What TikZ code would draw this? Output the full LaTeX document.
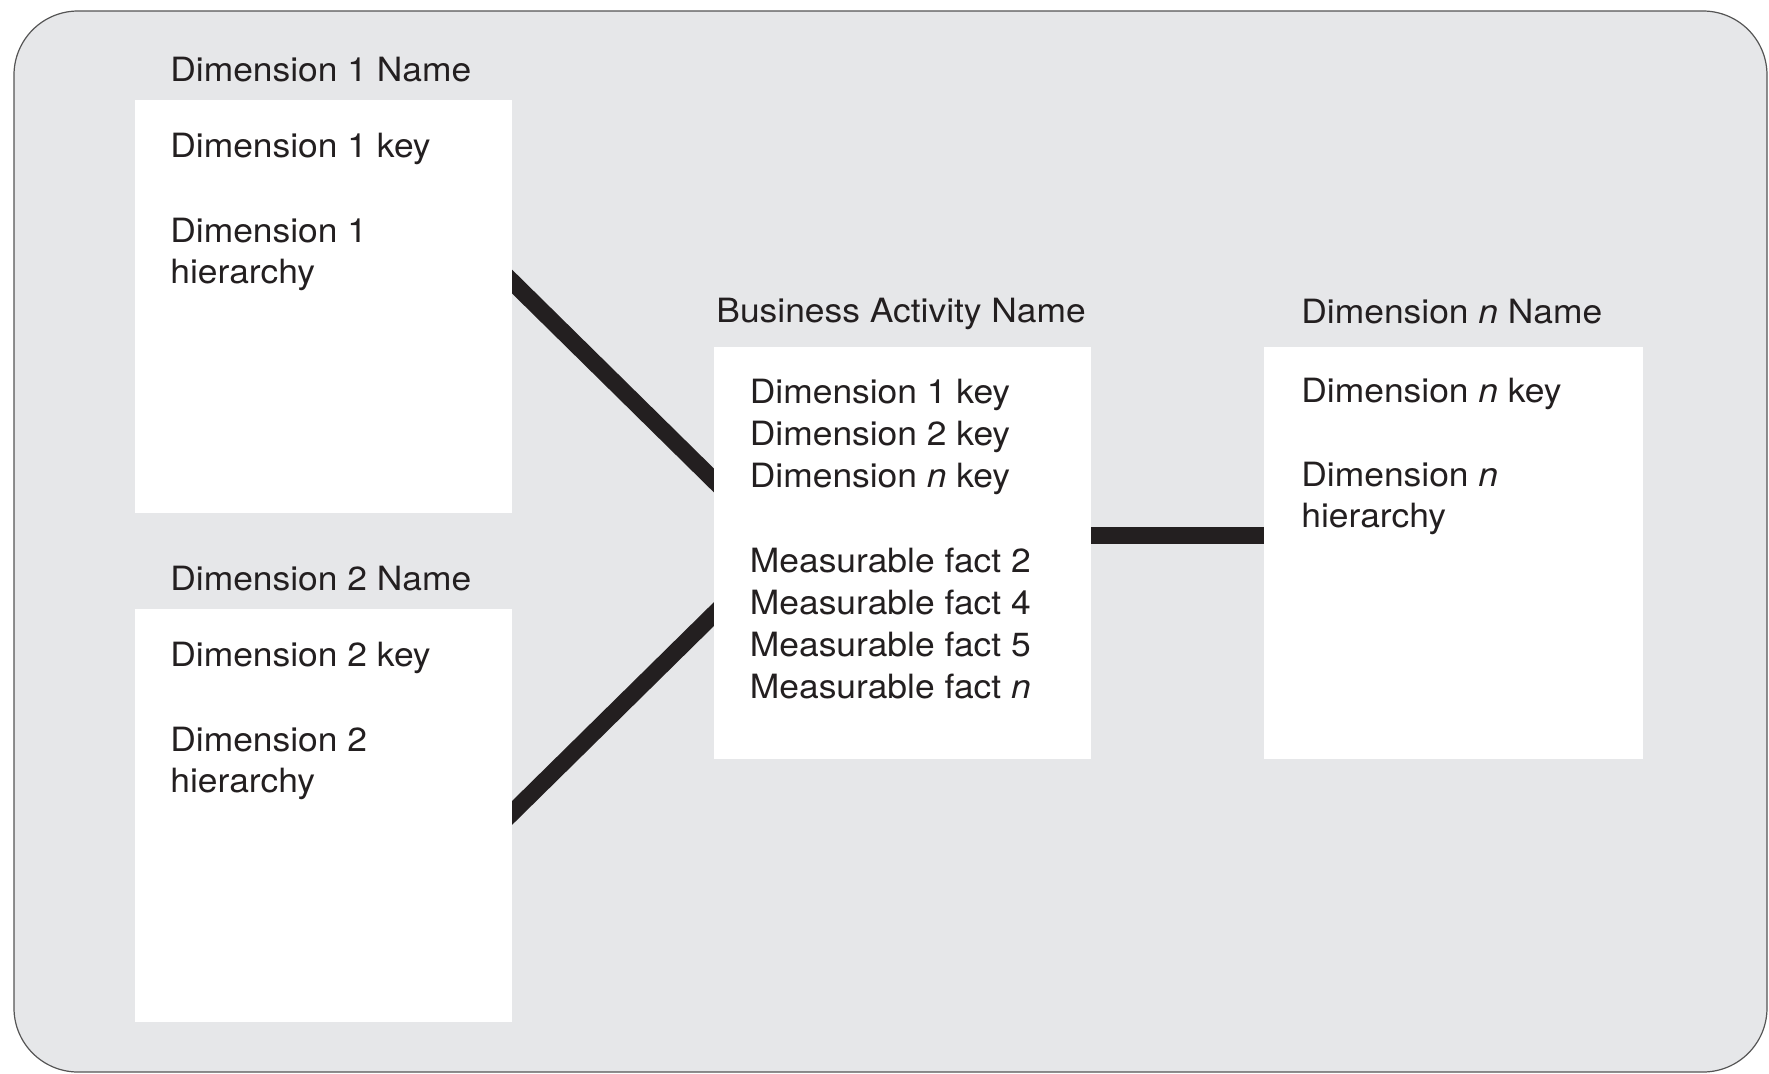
\documentclass[tikz,border=0pt]{standalone}
\usepackage{fontspec}
\setmainfont{TeX Gyre Heros}[FakeStretch=1.06]
\usetikzlibrary{fit}
\pgfdeclarelayer{panel}
\pgfdeclarelayer{links}
\pgfsetlayers{panel,links,main}
\definecolor{panelgray}{HTML}{E6E7E9}
\definecolor{ink}{HTML}{231F20}
\definecolor{rim}{HTML}{555555}
\begin{document}
\begin{tikzpicture}[x=0.5pt,y=-0.5pt,
  tablebox/.style={fill=white,draw=none,inner sep=0pt,outer sep=0pt},
  label/.style={anchor=base west,inner sep=0pt,text=ink,font=\fontsize{16.7}{21}\selectfont},
  link/.style={draw=ink,line width=8.5pt,shorten <=-6pt,shorten >=-6pt}]
\useasboundingbox (0,0) rectangle (1769,1073);

% outer panel
\begin{pgfonlayer}{panel}
  \draw[fill=panelgray,draw=rim,line width=0.6pt,rounded corners=32pt]
    (14,11) rectangle (1767,1072);
\end{pgfonlayer}

% tables
\node[tablebox,fit={(135,100) (512,513)}] (d1) {};
\node[tablebox,fit={(135,609) (512,1022)}] (d2) {};
\node[tablebox,fit={(714,347) (1091,759)}] (fact) {};
\node[tablebox,fit={(1264,347) (1643,759)}] (dn) {};

% dimension 1
\node[label] (d1name) at (170,81) {Dimension 1 Name};
\node[label] (d1key)  at (170,157) {Dimension 1 key};
\node[label] (d1h1)   at (170,242) {Dimension 1};
\node[label] (d1h2)   at (170,283) {hierarchy};

% dimension 2
\node[label] (d2name) at (170,590) {Dimension 2 Name};
\node[label] (d2key)  at (170,666) {Dimension 2 key};
\node[label] (d2h1)   at (170,751) {Dimension 2};
\node[label] (d2h2)   at (170,792) {hierarchy};

% fact table
\node[label] (factname) at (716,322) {Business Activity Name};
\node[label] (f1) at (749.5,403) {Dimension 1 key};
\node[label] (f2) at (749.5,445) {Dimension 2 key};
\node[label] (f3) at (749.5,487) {Dimension \textit{n} key};
\node[label] (f4) at (749.5,572) {Measurable fact 2};
\node[label] (f5) at (749.5,614) {Measurable fact 4};
\node[label] (f6) at (749.5,656) {Measurable fact 5};
\node[label] (f7) at (749.5,698) {Measurable fact \textit{n}};

% dimension n
\node[label] (dnname) at (1301,323) {Dimension \textit{n} Name};
\node[label] (dnkey)  at (1301,402) {Dimension \textit{n} key};
\node[label] (dnh1)   at (1301,486) {Dimension \textit{n}};
\node[label] (dnh2)   at (1301,527) {hierarchy};

% relationships
\begin{pgfonlayer}{links}
  \draw[link] ([yshift=12.5pt]d1.east) -- ([yshift=36.25pt]fact.west);
  \draw[link] ([yshift=1.25pt]d2.east) -- ([yshift=-30.5pt]fact.west);
  \draw[link] ([yshift=9pt]fact.east) -- ([yshift=9pt]dn.west);
\end{pgfonlayer}
\end{tikzpicture}
\end{document}
